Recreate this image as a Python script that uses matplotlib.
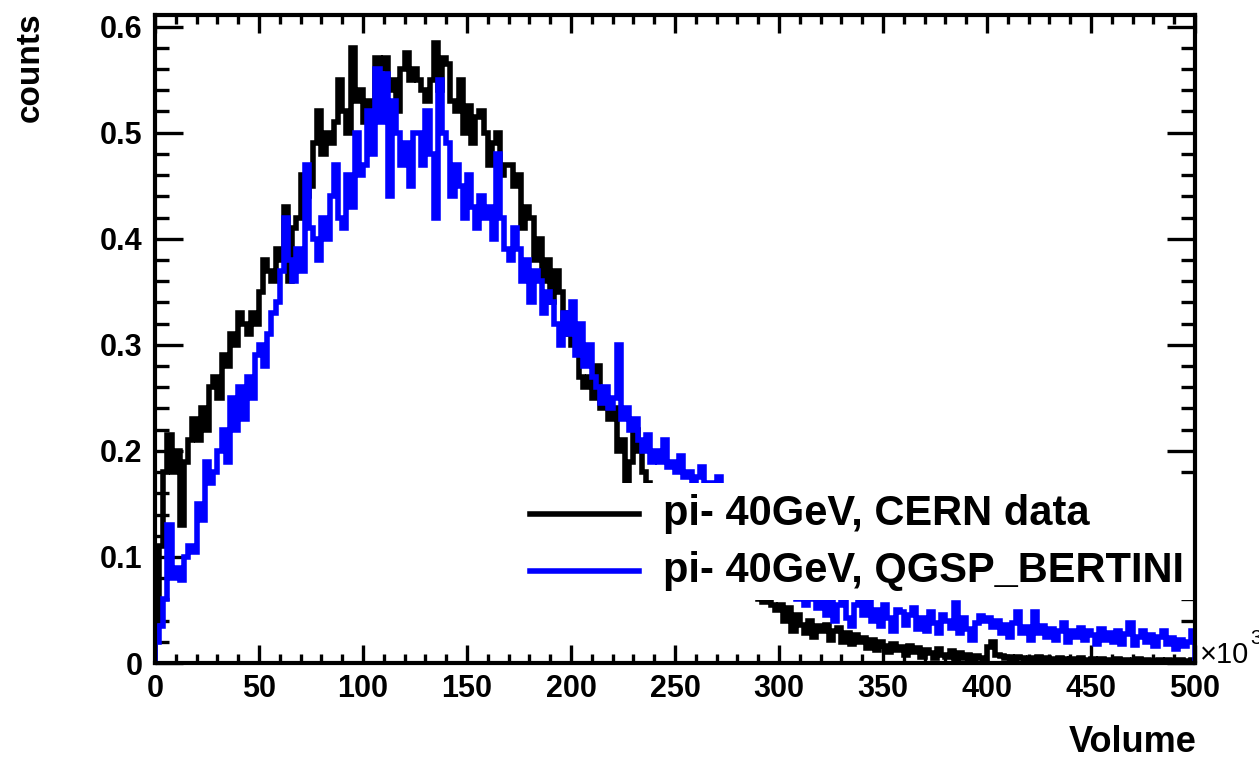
import numpy as np
import matplotlib
matplotlib.use('Agg')
import matplotlib.pyplot as plt
from matplotlib.ticker import MultipleLocator, FuncFormatter
from matplotlib.patches import Rectangle

# histogram binning: 250 bins of width 2 (x10^3) from 0 to 500
bin_edges = np.linspace(0, 500, 251)

# pi- 40GeV, CERN data (black)
cern_data = [
    0.04, 0.11, 0.18, 0.215, 0.18, 0.20, 0.13, 0.19, 0.21, 0.23,
    0.21, 0.24, 0.22, 0.26, 0.27, 0.25, 0.29, 0.28, 0.31, 0.30,
    0.33, 0.32, 0.31, 0.33, 0.32, 0.35, 0.38, 0.37, 0.36, 0.39,
    0.38, 0.43, 0.36, 0.41, 0.42, 0.46, 0.44, 0.45, 0.49, 0.52,
    0.48, 0.50, 0.49, 0.51, 0.55, 0.52, 0.50, 0.58, 0.53, 0.54,
    0.51, 0.53, 0.52, 0.57, 0.56, 0.57, 0.54, 0.55, 0.52, 0.56,
    0.575, 0.55, 0.56, 0.55, 0.54, 0.53, 0.55, 0.585, 0.54, 0.57,
    0.565, 0.53, 0.52, 0.55, 0.50, 0.525, 0.49, 0.515, 0.52, 0.50,
    0.47, 0.49, 0.50, 0.46, 0.47, 0.47, 0.45, 0.46, 0.41, 0.43,
    0.42, 0.38, 0.40, 0.36, 0.38, 0.34, 0.37, 0.35, 0.31, 0.33,
    0.30, 0.31, 0.27, 0.26, 0.27, 0.25, 0.28, 0.24, 0.25, 0.23,
    0.24, 0.20, 0.21, 0.17, 0.19, 0.22, 0.20, 0.18, 0.17, 0.16,
    0.165, 0.15, 0.16, 0.14, 0.15, 0.13, 0.14, 0.13, 0.12, 0.125,
    0.11, 0.12, 0.10, 0.11, 0.095, 0.10, 0.09, 0.095, 0.085, 0.09,
    0.08, 0.075, 0.07, 0.072, 0.065, 0.06, 0.058, 0.062, 0.055, 0.05,
    0.055, 0.04, 0.052, 0.03, 0.045, 0.036, 0.028, 0.04, 0.025, 0.035,
    0.03, 0.036, 0.022, 0.03, 0.033, 0.02, 0.028, 0.018, 0.026, 0.02,
    0.024, 0.014, 0.022, 0.012, 0.02, 0.016, 0.01, 0.018, 0.012, 0.015,
    0.008, 0.016, 0.01, 0.014, 0.006, 0.012, 0.009, 0.005, 0.013, 0.008,
    0.006, 0.011, 0.004, 0.009, 0.005, 0.008, 0.003, 0.007, 0.005, 0.004,
    0.015, 0.02, 0.008, 0.007, 0.005, 0.006, 0.004, 0.006, 0.005, 0.004,
    0.005, 0.004, 0.006, 0.003, 0.005, 0.004, 0.003, 0.005, 0.004, 0.003,
    0.004, 0.003, 0.005, 0.003, 0.002, 0.004, 0.003, 0.004, 0.002, 0.003,
    0.003, 0.004, 0.002, 0.003, 0.002, 0.003, 0.004, 0.002, 0.003, 0.002,
    0.002, 0.003, 0.002, 0.003, 0.002, 0.001, 0.003, 0.002, 0.002, 0.003,
]

# pi- 40GeV, QGSP_BERTINI simulation (blue)
qgsp_bertini = [
    0.02, 0.035, 0.06, 0.13, 0.08, 0.09, 0.078, 0.10, 0.11, 0.105,
    0.15, 0.135, 0.19, 0.17, 0.18, 0.20, 0.22, 0.19, 0.25, 0.22,
    0.26, 0.23, 0.27, 0.25, 0.29, 0.30, 0.28, 0.31, 0.33, 0.34,
    0.37, 0.42, 0.38, 0.36, 0.39, 0.37, 0.47, 0.41, 0.40, 0.38,
    0.42, 0.40, 0.44, 0.47, 0.42, 0.41, 0.46, 0.43, 0.50, 0.46,
    0.47, 0.52, 0.48, 0.56, 0.51, 0.555, 0.44, 0.53, 0.50, 0.47,
    0.49, 0.45, 0.50, 0.50, 0.47, 0.52, 0.48, 0.42, 0.55, 0.50,
    0.49, 0.44, 0.47, 0.45, 0.42, 0.46, 0.43, 0.41, 0.44, 0.42,
    0.43, 0.40, 0.48, 0.42, 0.39, 0.38, 0.41, 0.39, 0.36, 0.38,
    0.34, 0.37, 0.36, 0.33, 0.35, 0.34, 0.32, 0.30, 0.33, 0.31,
    0.34, 0.29, 0.32, 0.28, 0.30, 0.27, 0.26, 0.245, 0.26, 0.24,
    0.25, 0.30, 0.23, 0.24, 0.22, 0.23, 0.21, 0.20, 0.215, 0.19,
    0.20, 0.19, 0.21, 0.185, 0.19, 0.18, 0.195, 0.175, 0.18, 0.17,
    0.175, 0.185, 0.165, 0.17, 0.16, 0.175, 0.15, 0.16, 0.14, 0.145,
    0.13, 0.135, 0.12, 0.125, 0.11, 0.115, 0.10, 0.105, 0.09, 0.085,
    0.08, 0.07, 0.075, 0.065, 0.06, 0.07, 0.055, 0.06, 0.065, 0.052,
    0.058, 0.045, 0.062, 0.04, 0.055, 0.06, 0.042, 0.035, 0.055, 0.058,
    0.045, 0.06, 0.04, 0.05, 0.035, 0.055, 0.042, 0.03, 0.05, 0.048,
    0.036, 0.045, 0.052, 0.032, 0.042, 0.03, 0.048, 0.038, 0.028, 0.045,
    0.04, 0.033, 0.057, 0.028, 0.042, 0.032, 0.022, 0.038, 0.044, 0.04,
    0.042, 0.034, 0.04, 0.028, 0.036, 0.025, 0.038, 0.048, 0.028, 0.034,
    0.022, 0.048, 0.028, 0.035, 0.025, 0.032, 0.022, 0.03, 0.038, 0.02,
    0.03, 0.025, 0.033, 0.022, 0.03, 0.026, 0.018, 0.032, 0.022, 0.028,
    0.02, 0.03, 0.018, 0.027, 0.038, 0.017, 0.025, 0.03, 0.02, 0.026,
    0.016, 0.025, 0.03, 0.018, 0.024, 0.013, 0.022, 0.016, 0.02, 0.03,
]

legend_labels = ['pi- 40GeV, CERN data', 'pi- 40GeV, QGSP_BERTINI']
series_colors = ['black', '#0000ff']


def draw_histogram():
    plt.rcParams['font.family'] = ['Liberation Sans', 'DejaVu Sans']
    plt.rcParams['font.weight'] = 'bold'

    fig = plt.figure(figsize=(12.59, 7.6), dpi=100)
    ax = fig.add_axes([0.1231, 0.1276, 0.8261, 0.8527])

    ax.stairs(cern_data, bin_edges, color=series_colors[0], lw=4.0, zorder=2)
    ax.stairs(qgsp_bertini, bin_edges, color=series_colors[1], lw=4.0, zorder=2.05)

    ax.set_xlim(0, 500)
    ax.set_ylim(0, 0.611)

    # ROOT-like ticks: inside, on all four sides
    ax.xaxis.set_major_locator(MultipleLocator(50))
    ax.xaxis.set_minor_locator(MultipleLocator(10))
    ax.yaxis.set_major_locator(MultipleLocator(0.1))
    ax.yaxis.set_minor_locator(MultipleLocator(0.02))
    ax.yaxis.set_major_formatter(FuncFormatter(lambda v, p: '0' if abs(v) < 1e-9 else f'{v:.1f}'))
    ax.tick_params(which='both', direction='in', top=True, right=True, width=2.4, labelsize=22)
    ax.tick_params(axis='x', which='major', length=13, pad=8)
    ax.tick_params(axis='x', which='minor', length=6.5)
    ax.tick_params(axis='y', which='major', length=20, pad=9)
    ax.tick_params(axis='y', which='minor', length=10)
    for sp in ax.spines.values():
        sp.set_linewidth(3)

    # legend: white box without border, under the frame and ticks
    ax.add_patch(Rectangle((0.337, 0.097), 0.8, 0.181, transform=ax.transAxes,
                           facecolor='white', edgecolor='none', zorder=2.2))
    for ypos, lab, col in zip([0.23, 0.142], legend_labels, series_colors):
        ax.plot([0.361, 0.465], [ypos, ypos], transform=ax.transAxes, color=col, lw=4.0, zorder=2.3)
        ax.text(0.488, ypos, lab, transform=ax.transAxes, va='center', ha='left',
                fontsize=30, fontweight='bold', clip_on=True, zorder=2.3)

    fig.text(0.024, 0.984, 'counts', rotation=90, ha='center', va='top', fontsize=24, fontweight='bold')
    fig.text(0.9507, 0.0224, 'Volume', ha='right', va='center', fontsize=26, fontweight='bold')
    fig.text(0.953, 0.1276, '×10', ha='left', va='baseline', fontsize=21, fontweight='normal')
    fig.text(0.993, 0.152, '3', ha='left', va='baseline', fontsize=15, fontweight='normal')

    fig.savefig('out.png', dpi=100)


if __name__ == "__main__":
    draw_histogram()
